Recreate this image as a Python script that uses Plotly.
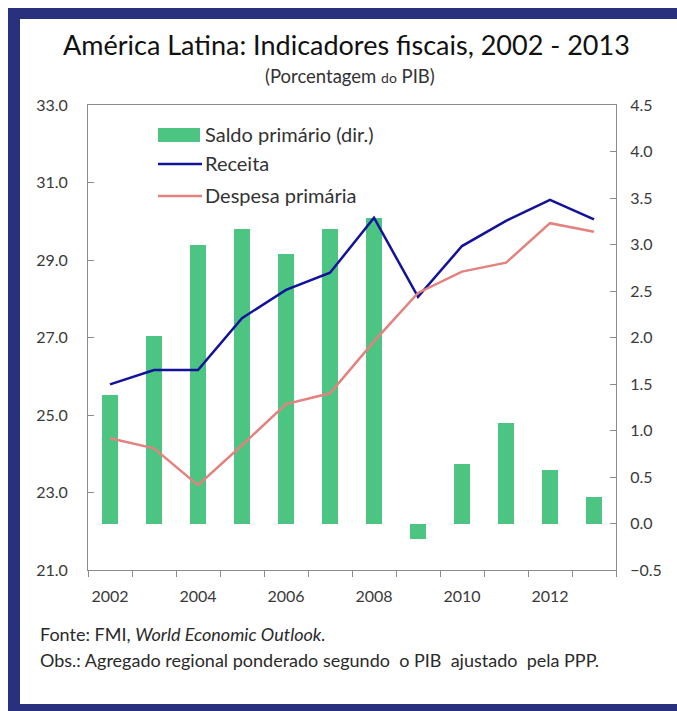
import plotly.graph_objects as go

years = [2002, 2003, 2004, 2005, 2006, 2007, 2008, 2009, 2010, 2011, 2012, 2013]
saldo_primario = [1.38, 2.02, 3.00, 3.17, 2.90, 3.17, 3.29, -0.17, 0.64, 1.08, 0.58, 0.28]
receita = [25.79, 26.16, 26.16, 27.50, 28.23, 28.67, 30.09, 28.05, 29.36, 30.01, 30.55, 30.05]
despesa = [24.40, 24.14, 23.19, 24.22, 25.28, 25.56, 26.90, 28.15, 28.70, 28.93, 29.95, 29.73]
xtick_years = [2002, 2004, 2006, 2008, 2010, 2012]
left_ticks = [21, 23, 25, 27, 29, 31, 33]
right_ticks = [-0.5, 0, 0.5, 1.0, 1.5, 2.0, 2.5, 3.0, 3.5, 4.0, 4.5]

GREEN = "#4CC583"
BLUE = "#12129A"
PINK = "#E3827E"
NAVY = "#29317F"
AXIS = "#8C8C8C"
TXT = "#3A3A3A"
FONT = "Lato"

# plot area in pixels
L, R, T, B = 88, 616, 105, 570
W, H = 677, 711

def px(x):
    return (x - L) / (R - L)

def py(y):
    return (B - y) / (B - T)

fig = go.Figure()
fig.add_trace(go.Bar(x=years, y=saldo_primario, yaxis="y", marker=dict(color=GREEN, line_width=0),
                     width=0.38, name="Saldo primário (dir.)", showlegend=False))
fig.add_trace(go.Scatter(x=years, y=receita, yaxis="y2", mode="lines",
                         line=dict(color=BLUE, width=2.5), name="Receita", showlegend=False))
fig.add_trace(go.Scatter(x=years, y=despesa, yaxis="y2", mode="lines",
                         line=dict(color=PINK, width=2.5), name="Despesa primária", showlegend=False))

tickfont = dict(family=FONT, size=16, color=TXT)

fig.update_layout(
    width=W, height=H,
    margin=dict(l=L, r=W - R, t=T, b=H - B, pad=0),
    paper_bgcolor="white", plot_bgcolor="white",
    font=dict(family=FONT, color=TXT),
    xaxis=dict(range=[2001.5, 2013.5], tickvals=xtick_years, ticktext=[str(v) for v in xtick_years],
               ticks="", showgrid=False, zeroline=False, showline=True, linecolor=AXIS, linewidth=1,
               mirror=True, tickfont=tickfont, ticklabelstandoff=12,
               minor=dict(tickvals=[y - 0.5 for y in years] + [years[-1] + 0.5], ticks="outside",
                          ticklen=6, tickcolor=AXIS, tickwidth=1, showgrid=False)),
    yaxis=dict(side="right", range=[-0.5, 4.5], tickvals=right_ticks, tickformat=".1f",
               ticks="inside", ticklen=6, tickcolor=AXIS, showgrid=False, zeroline=False,
               showline=True, linecolor=AXIS, linewidth=1, tickfont=tickfont, ticklabelstandoff=10),
    yaxis2=dict(side="left", overlaying="y", range=[21, 33], tickvals=left_ticks, tickformat=".1f",
                ticks="inside", ticklen=6, tickcolor=AXIS, showgrid=False, zeroline=False,
                showline=True, linecolor=AXIS, linewidth=1, tickfont=tickfont, ticklabelstandoff=16),
    bargap=0,
)

# legend (manual)
leg_font = dict(family=FONT, size=20, color="#333333")
fig.add_shape(type="rect", xref="paper", yref="paper", x0=px(158), x1=px(200), y0=py(142), y1=py(128),
              fillcolor=GREEN, line_width=0)
fig.add_shape(type="line", xref="paper", yref="paper", x0=px(158), x1=px(202), y0=py(164), y1=py(164),
              line=dict(color=BLUE, width=2.5))
fig.add_shape(type="line", xref="paper", yref="paper", x0=px(158), x1=px(202), y0=py(196), y1=py(196),
              line=dict(color=PINK, width=2.5))
for txt, yy in [("Saldo primário (dir.)", 134), ("Receita", 163), ("Despesa primária", 195)]:
    fig.add_annotation(text=txt, xref="paper", yref="paper", x=px(203), y=py(yy), xanchor="left",
                       yanchor="middle", showarrow=False, font=leg_font)

# title and subtitle
fig.add_annotation(text="América Latina: Indicadores fiscais, 2002 - 2013", xref="paper", yref="paper",
                   x=px(346), y=py(45), xanchor="center", yanchor="middle", showarrow=False,
                   font=dict(family=FONT, size=27, color="#111111"))
fig.add_annotation(text="(Porcentagem <span style='font-size:14px'>do</span> PIB)", xref="paper", yref="paper",
                   x=px(350), y=py(76), xanchor="center", yanchor="middle", showarrow=False,
                   font=dict(family=FONT, size=18.5, color="#333333"))

# footer
foot_font = dict(family=FONT, size=18, color="#2A2A2A")
fig.add_annotation(text="Fonte: FMI, <i>World Economic Outlook.</i>", xref="paper", yref="paper",
                   x=px(38), y=py(634), xanchor="left", yanchor="middle", showarrow=False, font=foot_font)
fig.add_annotation(text="Obs.: Agregado regional ponderado segundo  o PIB  ajustado  pela PPP.", xref="paper",
                   yref="paper", x=px(38), y=py(660), xanchor="left", yanchor="middle", showarrow=False,
                   font=foot_font)

# navy frame
for x0, x1, y0, y1 in [(8, 20, 8, 711), (8, 677, 8, 19), (8, 677, 704, 711)]:
    fig.add_shape(type="rect", xref="paper", yref="paper", x0=px(x0), x1=px(x1), y0=py(y1), y1=py(y0),
                  fillcolor=NAVY, line_width=0, layer="above")

fig.write_html("out.html")
